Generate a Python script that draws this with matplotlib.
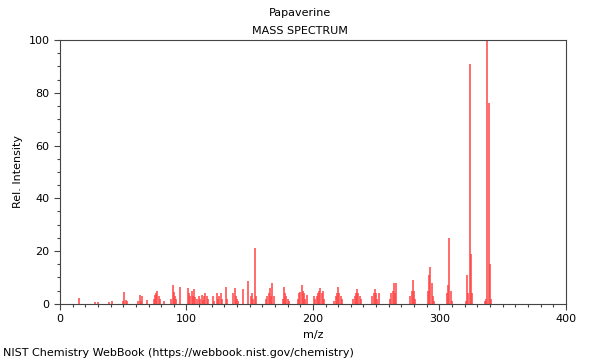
import matplotlib
matplotlib.use("Agg")
import matplotlib.pyplot as plt
from matplotlib.ticker import MultipleLocator

# m/z values and relative intensities
mz = [15, 28, 30, 39, 41, 50, 51, 52, 53, 62, 63, 64, 65, 69,
      74, 75, 76, 77, 78, 79, 82, 88, 89, 90, 91, 92, 95,
      101, 102, 103, 104, 105, 106, 107, 108,
      110, 111, 112, 113, 114, 115, 116, 117,
      121, 122, 124, 125, 126, 127, 128, 131, 132,
      137, 138, 139, 140, 141, 145, 149,
      151, 152, 153, 154, 155,
      163, 164, 165, 166, 167, 168, 169,
      176, 177, 178, 179, 180, 181,
      188, 189, 190, 191, 192, 193, 194, 195,
      201, 202, 203, 204, 205, 206, 207, 208, 209,
      217, 218, 219, 220, 221, 222, 223,
      232, 233, 234, 235, 236, 237, 238,
      247, 248, 249, 250, 251, 252,
      261, 262, 263, 264, 265, 266,
      277, 278, 279, 280, 281,
      291, 292, 293, 294, 295, 296,
      306, 307, 308, 309, 310,
      321, 322, 323, 324, 325, 326,
      336, 337, 338, 339, 340, 341]
intensity = [2.3, 0.6, 0.8, 0.7, 1.0, 1.2, 4.5, 1.5, 1.0, 1.0, 3.2, 1.2, 3.0, 1.5,
             2.0, 3.2, 4.0, 5.0, 3.0, 2.0, 1.0, 2.0, 7.0, 4.5, 3.0, 2.0, 6.5,
             6.0, 4.0, 3.0, 5.0, 3.0, 5.5, 2.5, 2.0,
             3.0, 2.0, 3.2, 1.5, 3.0, 4.0, 3.0, 2.0,
             3.0, 1.2, 4.0, 2.0, 3.0, 4.0, 2.0, 6.5, 2.0,
             4.0, 6.0, 3.0, 2.0, 1.0, 5.5, 8.5,
             3.0, 4.0, 2.0, 21.0, 3.0,
             2.0, 3.0, 4.0, 6.0, 3.0, 8.0, 3.0,
             2.0, 6.5, 4.0, 3.0, 2.0, 1.0,
             2.0, 4.0, 4.5, 7.0, 5.0, 4.0, 2.0, 3.5,
             3.0, 2.0, 3.0, 4.0, 5.0, 6.0, 4.0, 5.0, 2.0,
             1.0, 3.0, 4.0, 6.5, 4.0, 3.0, 2.0,
             2.0, 3.0, 4.0, 5.5, 4.0, 3.0, 2.0,
             3.0, 4.0, 5.5, 4.0, 2.0, 4.0,
             2.0, 4.0, 5.0, 8.0, 4.0, 8.0,
             3.0, 5.0, 9.0, 5.0, 2.0,
             5.0, 11.0, 14.0, 8.0, 3.0, 1.0,
             4.0, 7.0, 25.0, 5.0, 1.0,
             1.0, 11.0, 4.0, 91.0, 19.0, 4.0,
             1.0, 2.0, 100.0, 76.0, 15.0, 2.0]

fig = plt.figure(figsize=(6, 3.6), dpi=100)
ax = fig.add_axes([0.1, 0.156, 0.843, 0.733])

ax.vlines(mz, 0, intensity, color="#ff4444", linewidth=1.1)

ax.set_xlim(0, 400)
ax.set_ylim(0, 100)
ax.xaxis.set_major_locator(MultipleLocator(100))
ax.xaxis.set_minor_locator(MultipleLocator(10))
ax.yaxis.set_major_locator(MultipleLocator(20))
ax.yaxis.set_minor_locator(MultipleLocator(5))
ax.tick_params(which="both", labelsize=8, color="#444444", width=0.8)
ax.tick_params(which="major", length=4)
ax.tick_params(which="minor", length=2.5)
for s in ax.spines.values():
    s.set_color("#444444")
    s.set_linewidth(0.8)

ax.set_xlabel("m/z", fontsize=8)
ax.set_ylabel("Rel. Intensity", fontsize=8)

fig.text(0.5, 0.963, "Papaverine", ha="center", va="center", fontsize=8)
fig.text(0.5, 0.915, "MASS SPECTRUM", ha="center", va="center", fontsize=8)
fig.text(0.005, 0.02, "NIST Chemistry WebBook (https://webbook.nist.gov/chemistry)",
         ha="left", va="center", fontsize=8)

fig.savefig("out.png", dpi=100)
